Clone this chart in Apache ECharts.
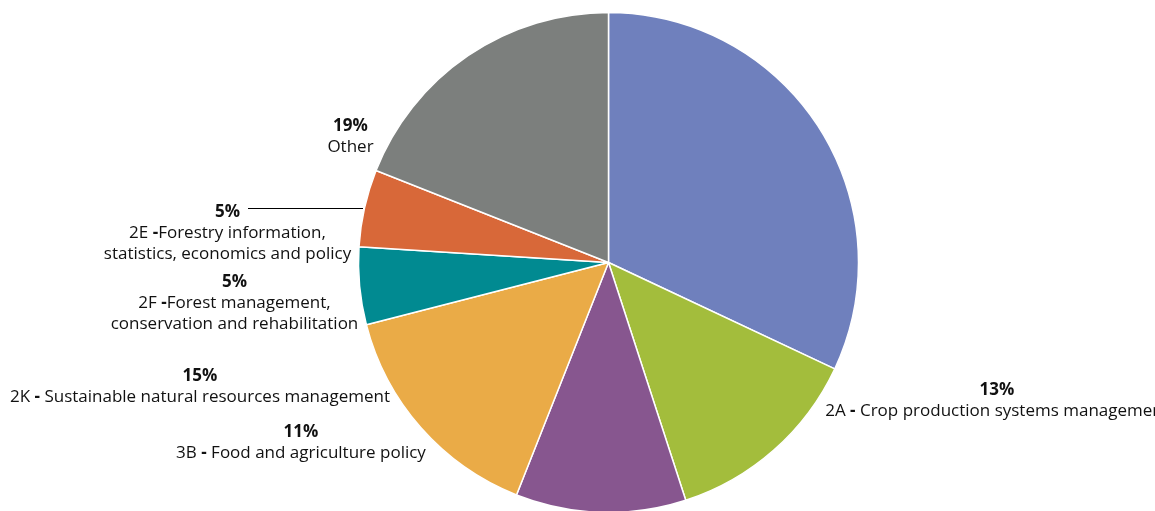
<!DOCTYPE html>
<html>
<head>
<meta charset="utf-8">
<script src="https://cdn.jsdelivr.net/npm/echarts@6/dist/echarts.min.js"></script>
<style>
  html, body { margin: 0; padding: 0; background: #ffffff; }
  #chart { width: 1155px; height: 511px; }
</style>
</head>
<body>
<div id="chart"></div>
<script>
// Share of technical work by programme area (percent)
const categories = [
  '',
  '2A - Crop production systems management',
  '3B - Food and agriculture policy',
  '2K - Sustainable natural resources management',
  '2F -Forest management,\nconservation and rehabilitation',
  '2E -Forestry information,\nstatistics, economics and policy',
  'Other'
];
const shares = [32, 13, 11, 15, 5, 5, 19];
const sliceColors = ['#6f80bd', '#a3bd3c', '#87568f', '#eaab47', '#018a91', '#d86839', '#7c7f7d'];

// Where each label block sits (centre of the block), indexed like the slices
const labelSpots = [
  null,
  [997, 401],
  [301, 443],
  [200, 387],
  [234.5, 303],
  [227.5, 233],
  [350.5, 136.5]
];
// Leader line drawn for the 2E label
const leaderLine = [[363, 208.5], [305, 208.5], [248, 208.5]];

function nameLine(line) {
  const i = line.indexOf('-');
  if (i < 0) return '{t|' + line + '}';
  return '{t|' + line.slice(0, i) + '}{h|-}{t|' + line.slice(i + 1) + '}';
}

const chart = echarts.init(document.getElementById('chart'), null, { renderer: 'canvas' });

const data = categories.map((name, i) => ({
  name: name,
  value: shares[i],
  itemStyle: { color: sliceColors[i] },
  label: { show: i !== 0 },
  labelLine: i === 5
    ? { show: true, lineStyle: { color: '#000000', width: 1 } }
    : { show: false }
}));

const ink = '#111111';

chart.setOption({
  animation: false,
  backgroundColor: '#ffffff',
  series: [{
    type: 'pie',
    center: [608.5, 262.5],
    radius: [0, 250],
    startAngle: 90,
    clockwise: true,
    avoidLabelOverlap: false,
    data: data,
    itemStyle: { borderColor: '#ffffff', borderWidth: 1.5 },
    emphasis: { disabled: true },
    label: {
      position: 'outside',
      formatter: function (p) {
        const lines = p.name.split('\n').map(nameLine);
        return '{p|' + p.value + '%}\n' + lines.join('\n');
      },
      align: 'center',
      rich: {
        p: { fontFamily: 'Open Sans', fontWeight: 'bold', fontSize: 17, color: ink, lineHeight: 21, align: 'center' },
        t: { fontFamily: 'Open Sans', fontSize: 17, color: ink, lineHeight: 21 },
        h: { fontFamily: 'Open Sans', fontWeight: 'bold', fontSize: 17, color: ink, lineHeight: 21 }
      }
    },
    labelLayout: function (params) {
      const spot = labelSpots[params.dataIndex];
      if (!spot) return {};
      const out = { x: spot[0], y: spot[1], align: 'center', verticalAlign: 'middle' };
      if (params.dataIndex === 5) out.labelLinePoints = leaderLine;
      return out;
    }
  }]
});
</script>
</body>
</html>
